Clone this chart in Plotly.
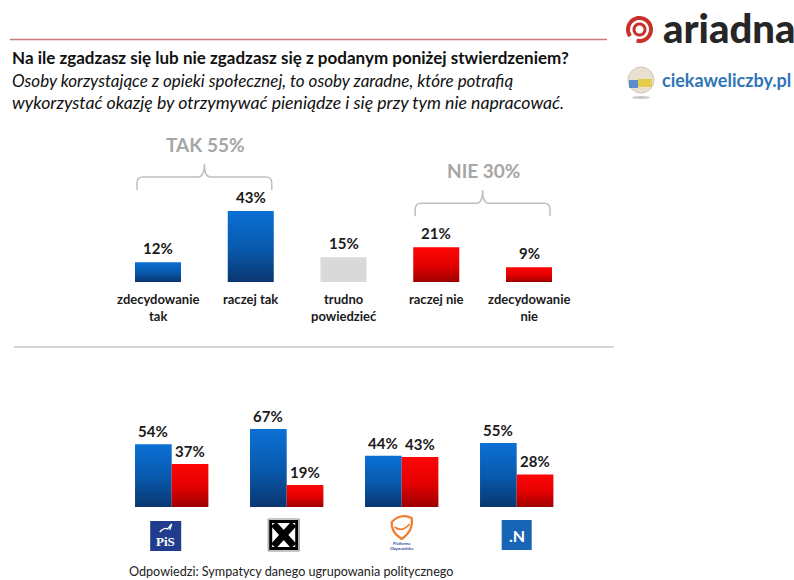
import math
import plotly.graph_objects as go

# ---------------- data ----------------
answer_labels = ["zdecydowanie<br>tak", "raczej tak", "trudno<br>powiedzieć", "raczej nie", "zdecydowanie<br>nie"]
answer_values = [12, 43, 15, 21, 9]
answer_kind = ["tak", "tak", "neutral", "nie", "nie"]

groups = [("TAK", [0, 1]), ("NIE", [3, 4])]

parties = ["PiS", "Kukiz'15", "Platforma Obywatelska", ".N"]
party_tak = [54, 67, 44, 55]
party_nie = [37, 19, 43, 28]

title = "Na ile zgadzasz się lub nie zgadzasz się z podanym poniżej stwierdzeniem?"
subtitle1 = "Osoby korzystające z opieki społecznej, to osoby zaradne, które potrafią"
subtitle2 = "wykorzystać okazję by otrzymywać pieniądze i się przy tym nie napracować."
footer = "Odpowiedzi: Sympatycy danego ugrupowania politycznego"

# ---------------- geometry / style ----------------
W, H = 794, 580
FONT = "Lato"
DARK = "#1a1a1a"

# top chart axes
X0_1, STEP1, BASE1, SCALE1, BW1 = 158.0, 92.75, 282.0, 1.651, 0.496
# bottom chart axes
X0_2, STEP2, BASE2, SCALE2, BW2 = 171.7, 115.0, 507.0, 1.164, 0.319

BLUE_SCALE = [[0, "#0a3670"], [0.45, "#0858aa"], [1, "#0b70d6"]]
RED_SCALE = [[0, "#9e0000"], [0.45, "#e20000"], [1, "#ff0606"]]
GREY = "#d9d9d9"


def P(px, py):
    return px / W, 1 - py / H


def px1(x):
    return X0_1 + STEP1 * x


def py1(y):
    return BASE1 - SCALE1 * y


fig = go.Figure()


def bar(xc, w, v, kind, xa, ya):
    xs = [xc - w / 2, xc + w / 2, xc + w / 2, xc - w / 2, xc - w / 2]
    ys = [0, 0, v, v, 0]
    tr = dict(x=xs, y=ys, mode="lines", line=dict(width=0), fill="toself",
              hoverinfo="skip", showlegend=False, xaxis=xa, yaxis=ya)
    if kind == "neutral":
        tr["fillcolor"] = GREY
    else:
        tr["fillgradient"] = dict(type="vertical",
                                  colorscale=BLUE_SCALE if kind == "tak" else RED_SCALE)
    fig.add_trace(go.Scatter(**tr))


annotations = []
shapes = []

# top bars
for i, (lab, v, k) in enumerate(zip(answer_labels, answer_values, answer_kind)):
    bar(i, BW1, v, k, "x", "y")
    annotations.append(dict(x=i, y=v, xref="x", yref="y", text=f"{v}%", showarrow=False,
                            yanchor="middle", yshift=14,
                            font=dict(family=FONT, size=15, color=DARK, weight="bold")))
    annotations.append(dict(x=i, y=0, xref="x", yref="y", text=lab, showarrow=False,
                            yanchor="top", yshift=-7,
                            font=dict(family=FONT, size=13, color=DARK, weight="bold")))

# brackets
lifts = [21, 31]
p = lambda a, b: "{:.5f},{:.5f}".format(*P(a, b))
for (name, idx), lift in zip(groups, lifts):
    total = sum(answer_values[j] for j in idx)
    L = px1(min(idx) - BW1 / 2) + 2
    R = px1(max(idx) + BW1 / 2) - 2
    C = (L + R) / 2
    bot = py1(max(answer_values[j] for j in idx)) - lift
    hz = bot - 13
    tip = hz - 13
    r = 6
    path = (f"M {p(L, bot)} L {p(L, hz + r)} Q {p(L, hz)} {p(L + r, hz)} "
            f"L {p(C - r, hz)} Q {p(C, hz)} {p(C, tip)} Q {p(C, hz)} {p(C + r, hz)} "
            f"L {p(R - r, hz)} Q {p(R, hz)} {p(R, hz + r)} L {p(R, bot)}")
    shapes.append(dict(type="path", path=path, xref="paper", yref="paper",
                       line=dict(color="#bfbfbf", width=1.5)))
    tx, ty = P(C + 1, tip - 20)
    annotations.append(dict(x=tx, y=ty, xref="paper", yref="paper", text=f"{name} {total}%",
                            showarrow=False, xanchor="center", yanchor="middle",
                            font=dict(family=FONT, size=19, color="#a6a6a6", weight="bold")))

# bottom bars
for i, (t, n) in enumerate(zip(party_tak, party_nie)):
    for xc, v, k in ((i - BW2 / 2, t, "tak"), (i + BW2 / 2, n, "nie")):
        bar(xc, BW2, v, k, "x2", "y2")
        annotations.append(dict(x=xc, y=v, xref="x2", yref="y2", text=f"{v}%", showarrow=False,
                                yanchor="middle", yshift=13,
                                font=dict(family=FONT, size=15, color=DARK, weight="bold")))

# ---------------- header ----------------
for txt, py, size, italic, bold in ((title, 57, 17, False, True),
                                     (subtitle1, 80, 17, True, False),
                                     (subtitle2, 102, 17.7, True, False)):
    x, y = P(10, py)
    annotations.append(dict(x=x, y=y, xref="paper", yref="paper", text=txt, showarrow=False,
                            xanchor="left", yanchor="middle",
                            font=dict(family=FONT, size=size, color="#111111",
                                      style="italic" if italic else "normal",
                                      weight="bold" if bold else "normal")))

# red rule at header top
x0, y0 = P(10, 39.5)
x1, _ = P(607, 39.5)
shapes.append(dict(type="line", xref="paper", yref="paper", x0=x0, x1=x1, y0=y0, y1=y0,
                   line=dict(color="#c97a7a", width=1.5)))
# separator
x0, y0 = P(14, 347)
x1, _ = P(614, 347)
shapes.append(dict(type="line", xref="paper", yref="paper", x0=x0, x1=x1, y0=y0, y1=y0,
                   line=dict(color="#d6d6d6", width=2)))


# ariadna logo icon
def arc_path(cx, cy, r, a0, a1, n=60):
    s = []
    for k in range(n + 1):
        a = math.radians(a0 + (a1 - a0) * k / n)
        x, y = P(cx + r * math.cos(a), cy - r * math.sin(a))
        s.append(("M " if k == 0 else "L ") + f"{x:.5f},{y:.5f}")
    return " ".join(s)


shapes.append(dict(type="path", xref="paper", yref="paper", path=arc_path(639.5, 29.5, 11.5, 255, 575),
                   line=dict(color="#c8302c", width=4)))
shapes.append(dict(type="path", xref="paper", yref="paper", path=arc_path(639.5, 29.5, 5.5, 0, 360),
                   line=dict(color="#c8302c", width=3)))
x, y = P(661, 28)
annotations.append(dict(x=x, y=y, xref="paper", yref="paper", text="ariadna", showarrow=False,
                        xanchor="left", yanchor="middle",
                        font=dict(family=FONT, size=40, color="#262626", weight=900)))

# globe
gx0, gy0 = P(628, 67)
gx1, gy1 = P(654, 93)
shapes.append(dict(type="circle", xref="paper", yref="paper", x0=gx0, y0=gy0, x1=gx1, y1=gy1,
                   fillcolor="#e6e2cf", line=dict(color="#cfcab0", width=1)))
for (a, b, c, d, col) in ((629, 80, 638, 88, "#3a78c8"), (638, 79, 652, 87, "#e6c52a")):
    xa_, ya_ = P(a, b)
    xb_, yb_ = P(c, d)
    shapes.append(dict(type="rect", xref="paper", yref="paper", x0=xa_, y0=ya_, x1=xb_, y1=yb_,
                       fillcolor=col, line=dict(width=0), opacity=0.8))
sx0, sy0 = P(632, 96)
sx1, sy1 = P(650, 99)
shapes.append(dict(type="circle", xref="paper", yref="paper", x0=sx0, y0=sy0, x1=sx1, y1=sy1,
                   fillcolor="#c8c8c8", line=dict(width=0)))
x, y = P(660, 80)
annotations.append(dict(x=x, y=y, xref="paper", yref="paper", text="ciekaweliczby.pl", showarrow=False,
                        xanchor="left", yanchor="middle",
                        font=dict(family=FONT, size=18, color="#2e75b6", weight="bold")))


# party logos
def rect(a, b, c, d, **kw):
    xa_, ya_ = P(a, b)
    xb_, yb_ = P(c, d)
    shapes.append(dict(type="rect", xref="paper", yref="paper", x0=xa_, y0=ya_, x1=xb_, y1=yb_, **kw))


def ptxt(px, py, text, size, color, family=FONT, bold=True):
    x, y = P(px, py)
    annotations.append(dict(x=x, y=y, xref="paper", yref="paper", text=text, showarrow=False,
                            xanchor="center", yanchor="middle",
                            font=dict(family=family, size=size, color=color,
                                      weight="bold" if bold else "normal")))


logo_cx = [X0_2 + STEP2 * i + d for i, d in zip(range(len(parties)), [-6, -3, 0, 0])]

# PiS
c = logo_cx[0]
rect(c - 15.5, 521, c + 15.5, 551, fillcolor="#1f3d8c", line=dict(width=0))
ptxt(c, 541, "PiS", 13, "white", family="Liberation Serif")
bird = f"M {p(c-6, 532)} Q {p(c-1, 527)} {p(c+2, 529)} L {p(c+6, 524)} L {p(c+4, 530)}"
shapes.append(dict(type="path", xref="paper", yref="paper", path=bird,
                   line=dict(color="white", width=1.3)))
# Kukiz
c = logo_cx[1]
rect(c - 15.5, 519, c + 15.5, 551, fillcolor="white", line=dict(color="#8c8c8c", width=1))
rect(c - 13, 521.5, c + 13, 548.5, fillcolor="white", line=dict(color="black", width=3))
for (a, b, cc, d) in ((c - 10, 524, c + 10, 546), (c + 10, 524, c - 10, 546)):
    xa_, ya_ = P(a, b)
    xb_, yb_ = P(cc, d)
    shapes.append(dict(type="line", xref="paper", yref="paper", x0=xa_, y0=ya_, x1=xb_, y1=yb_,
                       line=dict(color="black", width=7)))
# PO
c = logo_cx[2]
po_path = (f"M {p(c-10, 522)} Q {p(c-1, 513)} {p(c+10, 518)} Q {p(c+12, 531)} {p(c, 539)} "
           f"Q {p(c-11, 532)} {p(c-10, 522)} Z")
shapes.append(dict(type="path", xref="paper", yref="paper", path=po_path,
                   line=dict(color="#f07f2f", width=2.2)))
smile = f"M {p(c-7, 527)} Q {p(c, 533)} {p(c+8, 524)}"
shapes.append(dict(type="path", xref="paper", yref="paper", path=smile,
                   line=dict(color="#f07f2f", width=1.8)))
ptxt(c, 546, "Platforma<br>Obywatelska", 4, "#2d4a9a")
# .N
c = logo_cx[3]
rect(c - 15, 520, c + 15, 550, fillcolor="#1765b4", line=dict(width=0))
ptxt(c, 535.5, ".N", 16, "white")

# footer
x, y = P(127, 571)
annotations.append(dict(x=x, y=y, xref="paper", yref="paper", text=footer, showarrow=False,
                        xanchor="left", yanchor="middle",
                        font=dict(family=FONT, size=12.6, color="#222222")))

ax_common = dict(visible=False, showgrid=False, zeroline=False, fixedrange=True)
fig.update_layout(
    width=W, height=H, margin=dict(l=0, r=0, t=0, b=0),
    paper_bgcolor="white", plot_bgcolor="rgba(0,0,0,0)",
    showlegend=False,
    xaxis=dict(domain=[0, 1], range=[-X0_1 / STEP1, (W - X0_1) / STEP1], **ax_common),
    yaxis=dict(domain=[0, 1], range=[-(H - BASE1) / SCALE1, BASE1 / SCALE1], **ax_common),
    xaxis2=dict(domain=[0, 1], range=[-X0_2 / STEP2, (W - X0_2) / STEP2], anchor="y2", **ax_common),
    yaxis2=dict(domain=[0, 1], range=[-(H - BASE2) / SCALE2, BASE2 / SCALE2], anchor="x2", **ax_common),
    annotations=annotations, shapes=shapes,
)

fig.write_html("out.html", config={"displayModeBar": False},
               post_script="document.body.style.margin='0px';document.body.style.overflow='hidden';")
